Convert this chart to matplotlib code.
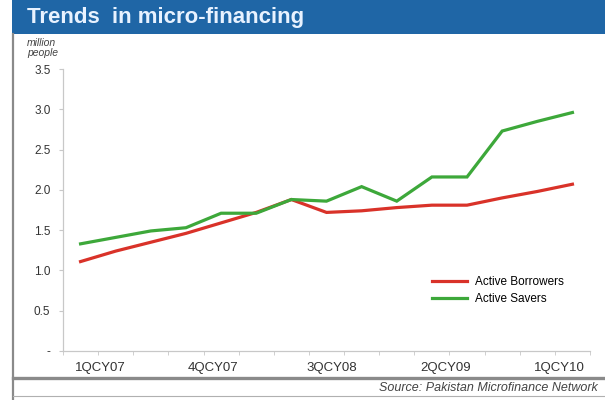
import matplotlib.pyplot as plt
from matplotlib.patches import Rectangle
from matplotlib.lines import Line2D

plt.rcParams['font.family'] = ['Liberation Sans', 'DejaVu Sans']

# quarterly figures, 1QCY07 .. 3QCY10 (million people)
quarters = list(range(15))
borrowers = [1.11, 1.24, 1.35, 1.46, 1.59, 1.72, 1.88, 1.72, 1.74, 1.78,
             1.81, 1.81, 1.90, 1.98, 2.07]
savers = [1.33, 1.41, 1.49, 1.53, 1.71, 1.71, 1.88, 1.86, 2.04, 1.86,
          2.16, 2.16, 2.73, 2.85, 2.96]

tick_pos = [0.57, 3.76, 7.14, 10.4, 13.63]
tick_labels = ['1QCY07', '4QCY07', '3QCY08', '2QCY09', '1QCY10']
y_ticks = [0, 0.5, 1.0, 1.5, 2.0, 2.5, 3.0, 3.5]
y_labels = ['-', '0.5', '1.0', '1.5', '2.0', '2.5', '3.0', '3.5']

RED = '#d93229'
GREEN = '#3da83a'
AXIS = '#c8c8c8'
TEXT = '#333333'

fig = plt.figure(figsize=(6.05, 4.0), dpi=100)
fig.patch.set_facecolor('white')

# header band
fig.patches.append(Rectangle((12 / 605, 0.915), 1, 0.1, transform=fig.transFigure,
                             facecolor='#1f66a6', edgecolor='none', zorder=0))
fig.text(27 / 605, 0.957, 'Trends  in micro-financing', color='#e8f2ff',
         fontsize=16, fontweight='bold', va='center', ha='left')

# frame lines
fig.add_artist(Line2D([13 / 605, 13 / 605], [0, 0.915], transform=fig.transFigure,
                      color='#8a8a8a', lw=1.6))
fig.add_artist(Line2D([13 / 605, 1], [0.054, 0.054], transform=fig.transFigure,
                      color='#8a8a8a', lw=2.4))
fig.add_artist(Line2D([13 / 605, 1], [0.01, 0.01], transform=fig.transFigure,
                      color='#b0b0b0', lw=0.8))

ax = fig.add_axes([63 / 605, 49 / 400, 527 / 605, 282 / 400])
ax.plot(quarters, borrowers, color=RED, lw=2.3, label='Active Borrowers',
        solid_joinstyle='miter')
ax.plot(quarters, savers, color=GREEN, lw=2.3, label='Active Savers',
        solid_joinstyle='miter')

ax.set_xlim(-0.5, 14.5)
ax.set_ylim(0, 3.5)

for side in ['top', 'right']:
    ax.spines[side].set_visible(False)
for side in ['left', 'bottom']:
    ax.spines[side].set_color(AXIS)
    ax.spines[side].set_linewidth(0.9)

ax.set_yticks(y_ticks)
ax.set_yticklabels(y_labels, fontsize=8.5, color=TEXT)
ax.tick_params(axis='y', length=3, color=AXIS, pad=6)

# category boundary marks on the x axis, labels placed separately
ax.set_xticks([q - 0.5 for q in quarters] + [14.5], minor=True)
ax.tick_params(axis='x', which='minor', length=3, color=AXIS)
ax.set_xticks(tick_pos)
ax.set_xticklabels(tick_labels, fontsize=9.5, color=TEXT)
ax.tick_params(axis='x', which='major', length=0, pad=8)

fig.text(27 / 605, 1 - 48 / 400, 'million\npeople', fontsize=7.5, style='italic',
         color='#444444', va='center', ha='left', linespacing=0.9)

ax.legend(loc='lower right', bbox_to_anchor=(0.96, 0.145), borderaxespad=0,
          frameon=False, fontsize=8.5, handlelength=3.0, handletextpad=0.7,
          labelspacing=0.45)

fig.text(598 / 605, 1 - 388 / 400, 'Source: Pakistan Microfinance Network',
         fontsize=9, style='italic', color='#444444', ha='right', va='center')

fig.savefig('out.png', dpi=100)
